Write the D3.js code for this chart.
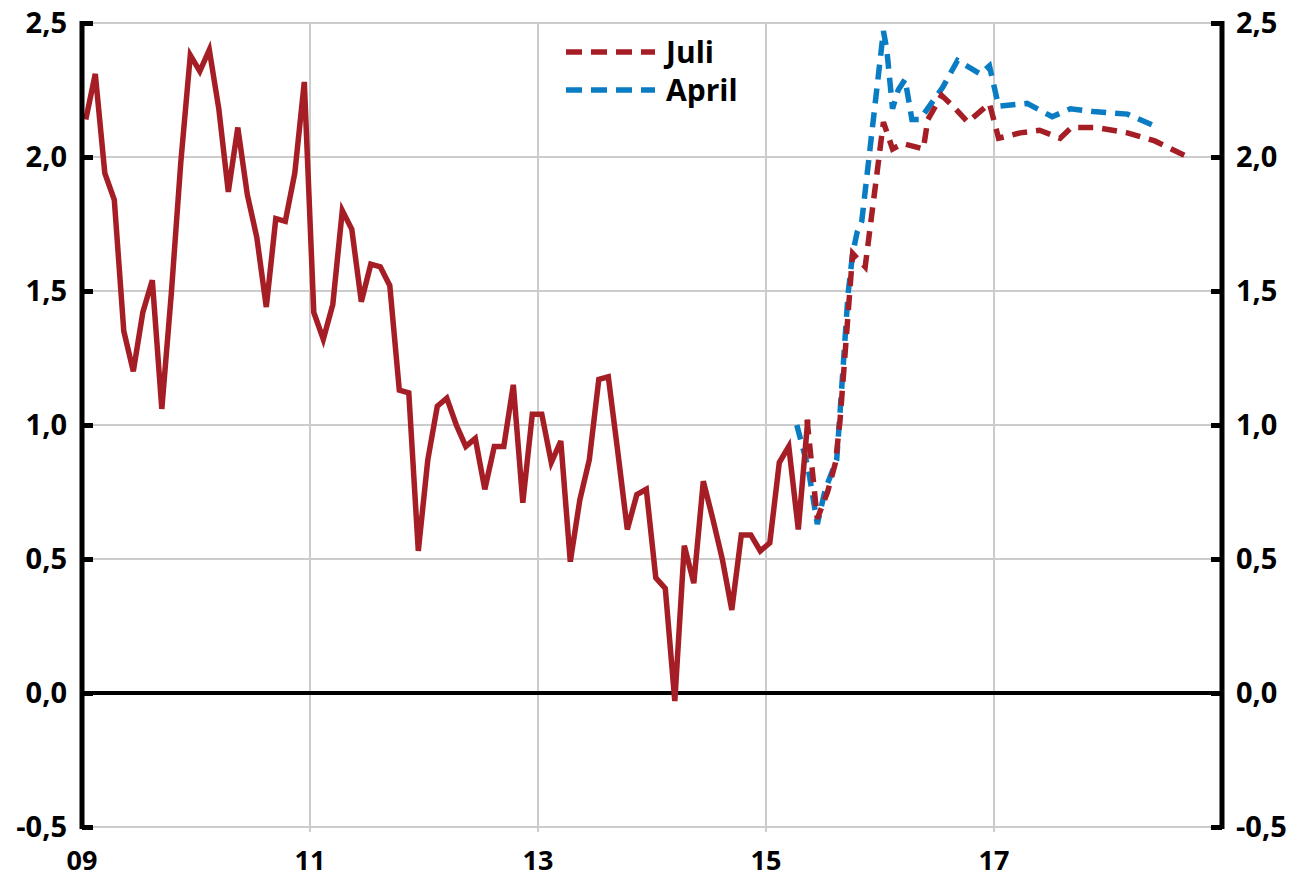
<!DOCTYPE html>
<html><head><meta charset="utf-8">
<script src="https://cdn.jsdelivr.net/npm/d3@7"></script>
<style>body{margin:0;background:#fff}svg{display:block}text{font-family:"Open Sans",sans-serif;font-weight:700;fill:#000}</style>
</head><body><svg id="c" width="1294" height="880"></svg>
<script>
// Monthly observed values (solid red), starting Jan 2009
const actualStart = 2009;
const actualValues = [2.14,2.31,1.94,1.84,1.35,1.20,1.42,1.54,1.06,1.49,1.98,2.38,
 2.32,2.40,2.18,1.87,2.11,1.86,1.70,1.44,1.77,1.76,1.94,2.28,
 1.42,1.32,1.45,1.80,1.73,1.46,1.60,1.59,1.52,1.13,1.12,0.53,
 0.87,1.07,1.10,1.00,0.92,0.95,0.76,0.92,0.92,1.15,0.71,1.04,
 1.04,0.86,0.94,0.49,0.72,0.87,1.17,1.18,0.90,0.61,0.74,0.76,
 0.43,0.39,-0.03,0.55,0.41,0.79,0.65,0.50,0.31,0.59,0.59,0.53,
 0.56,0.86,0.92,0.61,1.02];
// Forecast "Juli" (red dashed): decimal years and values
const juliYears = [2015.36,2015.45,2015.54,2015.61,2015.65,2015.76,2015.87,2016.03,2016.11,2016.20,2016.38,2016.42,2016.54,2016.64,2016.77,2016.96,2017.04,2017.23,2017.40,2017.58,2017.68,2017.90,2018.17,2018.41,2018.70];
const juliValues = [1.02,0.65,0.75,0.86,1.02,1.64,1.59,2.13,2.03,2.05,2.03,2.14,2.23,2.19,2.13,2.20,2.07,2.09,2.10,2.07,2.11,2.11,2.09,2.06,2.00];
// Forecast "April" (blue dashed)
const aprilYears = [2015.27,2015.37,2015.45,2015.52,2015.62,2015.65,2015.72,2015.76,2015.80,2015.84,2016.03,2016.06,2016.11,2016.16,2016.22,2016.28,2016.35,2016.55,2016.68,2016.88,2016.96,2017.04,2017.29,2017.51,2017.67,2017.87,2018.17,2018.44];
const aprilValues = [1.00,0.84,0.63,0.76,0.87,1.05,1.49,1.64,1.72,1.76,2.47,2.40,2.18,2.25,2.29,2.14,2.14,2.26,2.36,2.31,2.34,2.19,2.20,2.15,2.18,2.17,2.16,2.11];
const yTicks = [-0.5,0,0.5,1,1.5,2,2.5];
const xTicks = [2009,2011,2013,2015,2017];
const xTickLabels = ["09","11","13","15","17"];
const legendLabels = ["Juli","April"];

const RED = "#a61e25", BLUE = "#0a7cc4";
const svg = d3.select("#c");
const x = d3.scaleLinear().domain([2009,2019]).range([82,1222]);
const y = d3.scaleLinear().domain([-0.5,2.5]).range([827,23]);
const fmt = v => d3.format(".1f")(v).replace(".",",").replace("−","-");

// gridlines
svg.append("g").selectAll("line").data(yTicks).join("line")
  .attr("x1",82).attr("x2",1222).attr("y1",d=>y(d)).attr("y2",d=>y(d))
  .attr("stroke","#cccccc").attr("stroke-width",2);
svg.append("g").selectAll("line").data(xTicks.slice(1)).join("line")
  .attr("x1",d=>x(d)).attr("x2",d=>x(d)).attr("y1",23).attr("y2",832)
  .attr("stroke","#cccccc").attr("stroke-width",2);
// zero line
svg.append("line").attr("x1",82).attr("x2",1222).attr("y1",y(0)).attr("y2",y(0))
  .attr("stroke","#000").attr("stroke-width",4);

const actual = actualValues.map((v,i)=>[actualStart+(i+0.4)/12, v]);
const juli = juliYears.map((t,i)=>[t, juliValues[i]]);
const april = aprilYears.map((t,i)=>[t, aprilValues[i]]);
const line = d3.line().x(d=>x(d[0])).y(d=>y(d[1]));

svg.append("path").attr("d",line(april)).attr("fill","none").attr("stroke",BLUE)
  .attr("stroke-width",5.5).attr("stroke-dasharray","15,9");
svg.append("path").attr("d",line(juli)).attr("fill","none").attr("stroke",RED)
  .attr("stroke-width",5.5).attr("stroke-dasharray","15,9");
svg.append("path").attr("d",line(actual)).attr("fill","none").attr("stroke",RED)
  .attr("stroke-width",5.5).attr("stroke-linejoin","miter");

// axes
const left = svg.append("g").attr("transform","translate(82,0)")
  .call(d3.axisRight(y).tickValues(yTicks).tickSize(11).tickFormat(""));
const right = svg.append("g").attr("transform","translate(1222,0)")
  .call(d3.axisLeft(y).tickValues(yTicks).tickSize(11).tickFormat(""));
[left,right].forEach(g=>{
  g.select(".domain").attr("stroke","#000").attr("stroke-width",5)
   .attr("d",`M0,${y(2.5)-2}V${y(-0.5)+2}`);
  g.selectAll(".tick line").attr("stroke","#000").attr("stroke-width",5);
});
svg.append("g").selectAll("text").data(yTicks).join("text")
  .attr("x",67).attr("y",d=>y(d)).attr("dy","0.36em").attr("text-anchor","end")
  .attr("font-size",29).text(fmt);
svg.append("g").selectAll("text").data(yTicks).join("text")
  .attr("x",1236).attr("y",d=>y(d)).attr("dy","0.36em").attr("text-anchor","start")
  .attr("font-size",29).text(fmt);
svg.append("g").selectAll("text").data(xTicks).join("text")
  .attr("x",d=>x(d)).attr("y",870).attr("text-anchor","middle")
  .attr("font-size",27).text((d,i)=>xTickLabels[i]);

// legend
const lg = svg.append("g");
[[RED,52],[BLUE,90]].forEach(([c,yy],i)=>{
  lg.append("line").attr("x1",566).attr("x2",655).attr("y1",yy).attr("y2",yy)
    .attr("stroke",c).attr("stroke-width",5.5).attr("stroke-dasharray","16,9");
  lg.append("text").attr("x",666).attr("y",yy).attr("dy","0.36em")
    .attr("font-size",30).text(legendLabels[i]);
});
</script></body></html>
